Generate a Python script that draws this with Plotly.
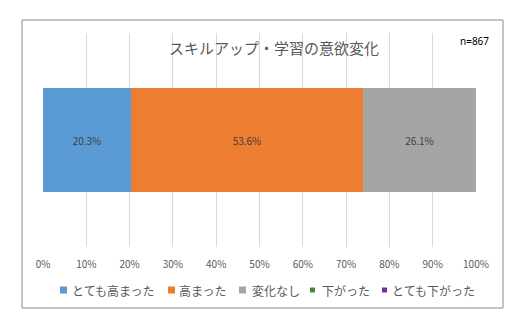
import plotly.graph_objects as go

# Survey: change in motivation for skill-up / learning (n=867)
categories = ["とても高まった", "高まった", "変化なし", "下がった", "とても下がった"]
values = [20.3, 53.6, 26.1, 0.0, 0.0]
colors = ["#5B9BD5", "#ED7D31", "#A5A5A5", "#548235", "#7030A0"]
tick_vals = [0, 10, 20, 30, 40, 50, 60, 70, 80, 90, 100]
tick_text = [f"{v}%" for v in tick_vals]
title_text = "スキルアップ・学習の意欲変化"
sample_note = "n=867"

FONT = "Noto Sans CJK JP"

fig = go.Figure()
for name, val, col in zip(categories, values, colors):
    fig.add_trace(go.Bar(
        y=["all"], x=[val], name=name, orientation="h",
        marker=dict(color=col, line=dict(width=0)),
        text=[f"{val:.1f}%" if val > 0 else ""],
        textposition="inside", insidetextanchor="middle",
        textfont=dict(family=FONT, size=10, color="#404040"),
        showlegend=False,
    ))

W, H = 526, 329
ml, mr, mt, mb = 43, 50, 33, 82
pw, ph = W - ml - mr, H - mt - mb


def px_x(p):
    return (p - ml) / pw


def px_y(p):
    return (H - mb - p) / ph


shapes = [dict(type="rect", xref="paper", yref="paper",
               x0=px_x(22), x1=px_x(503), y0=px_y(308), y1=px_y(20),
               line=dict(color="#888888", width=1), fillcolor="rgba(0,0,0,0)", layer="above")]
annotations = [
    dict(text=title_text, xref="paper", yref="paper", x=px_x(274), y=px_y(48),
         xanchor="center", yanchor="middle", showarrow=False,
         font=dict(family=FONT, size=15, color="#595959")),
    dict(text=sample_note, xref="paper", yref="paper", x=px_x(491), y=px_y(41),
         xanchor="right", yanchor="middle", showarrow=False,
         font=dict(family="Noto Sans", size=10, color="#000000")),
]

# Legend row: coloured key square followed by the category name
legend_y = 290
key_x = [60, 168, 239, 310, 382]
key_size = [7, 7, 7, 5, 5]
text_x = [70, 177, 250, 320, 390]
for name, col, kx, ks, tx in zip(categories, colors, key_x, key_size, text_x):
    shapes.append(dict(type="rect", xref="paper", yref="paper",
                       x0=px_x(kx), x1=px_x(kx + ks),
                       y0=px_y(legend_y + ks / 2), y1=px_y(legend_y - ks / 2),
                       line=dict(width=0), fillcolor=col))
    annotations.append(dict(text=name, xref="paper", yref="paper", x=px_x(tx), y=px_y(legend_y),
                            xanchor="left", yanchor="middle", showarrow=False,
                            font=dict(family=FONT, size=12, color="#595959")))

fig.update_layout(
    width=W, height=H,
    margin=dict(l=ml, r=mr, t=mt, b=mb),
    paper_bgcolor="white", plot_bgcolor="white",
    barmode="stack", bargap=0.51,
    font=dict(family=FONT, color="#595959"),
    showlegend=False,
    xaxis=dict(range=[0, 100], tickvals=tick_vals, ticktext=tick_text,
               showgrid=True, gridcolor="#D9D9D9", gridwidth=1,
               zeroline=False, showline=False,
               ticks="outside", ticklen=8, tickcolor="rgba(0,0,0,0)",
               tickfont=dict(family=FONT, size=10, color="#595959")),
    yaxis=dict(showticklabels=False, showgrid=False, zeroline=False, showline=False),
    shapes=shapes,
    annotations=annotations,
)

fig.write_html("out.html")
